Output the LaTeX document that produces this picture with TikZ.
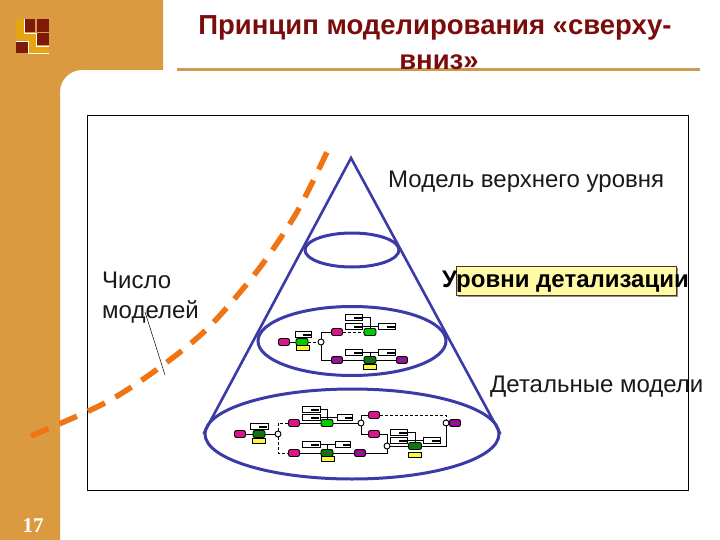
\documentclass[tikz,border=0pt]{standalone}
\usepackage{fontspec}
\setmainfont{Liberation Sans}
\newfontfamily\numfont{Liberation Serif}
\usepackage{xcolor}
\usetikzlibrary{
    shapes,
    shapes.geometric,
    positioning,
    shadows,
    calc
}
\definecolor{ochre}{HTML}{DC9A40}
\definecolor{ruleochre}{HTML}{CD9B50}
\definecolor{maroon}{HTML}{7A0C0C}
\definecolor{darkred}{HTML}{7E1A08}
\definecolor{gold}{HTML}{E5A510}
\definecolor{coneblue}{HTML}{3B3BA8}
\definecolor{curve}{HTML}{EE7414}
\tikzset{
  basic/.style = {
      draw=black,
      inner sep=0pt,
      line width=0.9pt,
      rectangle
  },
  doc/.style = {
      basic,
      fill=white,
      minimum width=17pt,
      minimum height=6pt,
      path picture={
        \draw[line width=1.4pt] ([xshift=0pt,yshift=-1pt]path picture bounding box.center)
        -- ([xshift=8pt,yshift=-1pt]path picture bounding box.center);
      }
  },
  start/.style = {
      basic,
      rounded corners=2pt,
      fill=magenta!85!violet,
      minimum width=11pt,
      minimum height=7pt
  },
  finish/.style = {
      start,
      fill=violet!70!magenta,
      path picture={
        \draw[line width=1.4pt,black!70] ([xshift=-3pt]path picture bounding box.center)
        -- ([xshift=3pt]path picture bounding box.center);
      }
  },
  work/.style = {
      basic,
      rounded corners=2pt,
      fill=green!80!black,
      minimum width=12pt,
      minimum height=7pt
  },
  workd/.style = {
      work,
      fill=green!50!black,
      path picture={
        \draw[line width=1.2pt,black!70] ([xshift=-3pt]path picture bounding box.center)
        -- ([xshift=3pt]path picture bounding box.center);
      }
  },
  note/.style = {
      basic,
      fill=yellow!75,
      minimum width=13pt,
      minimum height=5pt
  },
  gate/.style = {
      draw=black,
      circle,
      fill=white,
      line width=0.9pt,
      minimum size=6pt,
      inner sep=0pt
  },
  link/.style = {
      line width=0.9pt
  },
  dotlink/.style = {
      link,
      densely dashed
  },
  level/.style = {
      draw=coneblue,
      ellipse,
      line width=3pt,
      inner sep=0pt
  },
  cone/.style = {
      draw=coneblue,
      line width=2.6pt
  },
  caption/.style = {
      font=\fontsize{24}{30}\selectfont,
      text=black!90,
      inner sep=0pt
  }
}

\begin{document}
\begin{tikzpicture}[x=1pt,y=-1pt]
    \useasboundingbox (0,0) rectangle (720,540);
    % Background
    \fill[ochre] (0,0) -- (163,0) -- (163,70) -- (82,70)
        arc[start angle=90,end angle=180,radius=22pt] -- (60,540) -- (0,540) -- cycle;
    % Logo
    \fill[gold] (16,19) rectangle (24,40) (16,33) rectangle (36,40) (28,40) rectangle (36,53) (36,46) rectangle (49,53);
    \fill[darkred] (25,19) rectangle (35,32);
    \fill[darkred] (37,19) rectangle (49,32);
    \fill[darkred] (37,33) rectangle (49,45);
    \fill[darkred] (16,42) rectangle (28,53);
    \draw[white,line width=0.8pt] (24,19) -- (24,33) -- (36,33) -- (36,46) -- (49,46)
        (16,41) -- (28,41) -- (28,53) -- (49,53);
    % Title
    \draw[ruleochre,line width=2.5pt] (177,69.5) -- (700,69.5);
    \node[font=\fontsize{27.5}{35}\selectfont\bfseries,text=maroon,align=center,inner sep=0pt] (title) at (435,43)
        {Принцип моделирования «сверху-\\\hspace*{8pt}вниз»};
    \node[font=\fontsize{21}{21}\selectfont\bfseries\numfont,text=white,inner sep=0pt] (page) at (33,526) {17};
    % Frame
    \draw[black,line width=1pt] (87.5,116) rectangle (688,490);
    % Curve
    \coordinate (c1) at (31,436);
    \coordinate (c2) at (105,403);
    \coordinate (c3) at (159,368);
    \coordinate (c4) at (208,328);
    \coordinate (c5) at (258,270);
    \coordinate (c6) at (297,212);
    \coordinate (c7) at (327,152);
    \draw[curve,line width=5.5pt,dash pattern=on 19pt off 12pt]
        plot[smooth] coordinates {(c1) (c2) (c3) (c4) (c5) (c6) (c7)};
    % Levels
    \coordinate (apex) at (351,158);
    \node[level,minimum width=94pt,minimum height=34pt] (e1) at (352,250) {};
    \node[level,minimum width=188pt,minimum height=69pt] (e2) at (352,341) {};
    \node[level,minimum width=294pt,minimum height=90pt] (e3) at (352,434) {};
    \draw[cone] (e3.west) -- (apex) -- (e3.east);
    % Middle model
    \node[start] (m1) at (284,342) {};
    \node[work] (m2) at (302,342) {};
    \node[doc,minimum width=16pt] (m3) at (303,334) {};
    \node[note] (m4) at (303,348) {};
    \node[gate] (m5) at (321,342) {};
    \node[start] (m6) at (337,332) {};
    \node[finish] (m7) at (337,360) {};
    \node[work] (m8) at (370,332) {};
    \node[doc] (m9) at (354,317) {};
    \node[doc] (m10) at (354,326) {};
    \node[doc] (m11) at (387,326) {};
    \node[workd] (m12) at (370,360) {};
    \node[note] (m13) at (370,367) {};
    \node[doc] (m14) at (354,352) {};
    \node[doc] (m15) at (387,352) {};
    \node[finish] (m16) at (402,360) {};
    \path[draw,link]
    (m1) -- (m2)
    (m5) |- (m6)
    (m5) |- (m7)
    (m7) -- (m12)
    (m12) -- (m16)
    (m9) -| (m8)
    (m10) -| (m8)
    (m11) -| (m8)
    (m14) -| (m12)
    (m15) -| (m12);
    \path[draw,dotlink]
    (m2) -- (m5)
    (m6) -- (m8);
    % Detail model
    \node[start] (b1) at (240,434) {};
    \node[workd] (b2) at (259,434) {};
    \node[doc,minimum width=18pt] (b3) at (259,426) {};
    \node[note] (b4) at (259,441) {};
    \node[gate] (b5) at (278,434) {};
    \node[start] (b6) at (294,423) {};
    \node[start] (b7) at (294,453) {};
    \node[work] (b8) at (327,423) {};
    \node[doc,minimum width=18pt] (b9) at (311,409) {};
    \node[doc,minimum width=18pt] (b10) at (311,417) {};
    \node[doc,minimum width=15pt] (b11) at (345,417) {};
    \node[workd] (b12) at (327,453) {};
    \node[note] (b13) at (328,459) {};
    \node[doc,minimum width=18pt] (b14) at (311,444) {};
    \node[doc,minimum width=15pt] (b15) at (343,444) {};
    \node[gate] (b16) at (361,423) {};
    \node[start] (b17) at (374,415) {};
    \node[start] (b18) at (374,434) {};
    \node[finish] (b19) at (360,453) {};
    \node[gate] (b20) at (387,446) {};
    \node[workd,minimum width=13pt] (b21) at (415,446) {};
    \node[doc] (b22) at (399,432) {};
    \node[doc] (b23) at (399,440) {};
    \node[doc] (b24) at (432,440) {};
    \node[note] (b25) at (415,455) {};
    \node[gate] (b26) at (446,423) {};
    \node[finish] (b27) at (455,423) {};
    \path[draw,link]
    (b1) -- (b2)
    (b2) -- (b5)
    (b6) -- (b8)
    (b7) -- (b12)
    (b8) -- (b16)
    (b16) |- (b17)
    (b16) |- (b18)
    (b18) -| (b20)
    (b12) -- (b19)
    (b19) -| (b20)
    (b20) -- (b21)
    (b21) -| (b26)
    (b26) -- (b27)
    (b9) -| (b8)
    (b10) -| (b8)
    (b11) -| (b8)
    (b14) -| (b12)
    (b15) -| (b12)
    (b22) -| (b21)
    (b23) -| (b21)
    (b24) -| (b21);
    \path[draw,dotlink]
    (b5) |- (b6)
    (b5) |- (b7)
    (b17) -| (b26);
    % Labels
    \node[caption,anchor=base west] (top) at (388,188) {Модель верхнего уровня};
    \node[caption,anchor=base west] (detail) at (490,392) {Детальные модели};
    \node[caption,anchor=base west,align=left] (count) at (102,318) {Число\\моделей};
    \coordinate (leader) at (165,375);
    \draw[black,line width=0.5pt] (145,312) -- (leader);
    \node[draw=black!60!brown,fill=yellow!35,line width=0.7pt,inner sep=0pt,
        minimum width=220pt,minimum height=29pt,
        drop shadow={shadow xshift=1.5pt,shadow yshift=-1.5pt,fill=black!45,opacity=1}] (tag) at (566,280.5) {};
    \node[caption,font=\fontsize{24}{26}\selectfont\bfseries,text=black,anchor=base west] (levels) at (442,287) {Уровни детализации};
\end{tikzpicture}
\end{document}
